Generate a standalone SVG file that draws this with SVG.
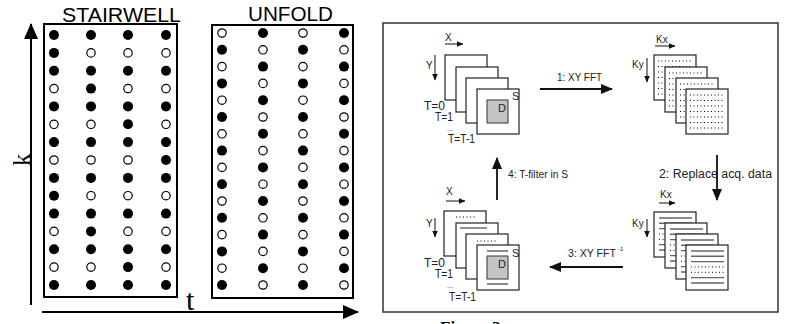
<svg xmlns="http://www.w3.org/2000/svg" xmlns:xlink="http://www.w3.org/1999/xlink" width="785" height="324" viewBox="0 0 785 324">
<style>
.f{fill:#000}
.o{fill:#fff;stroke:#000;stroke-width:1.2}
.box{fill:none;stroke:#000;stroke-width:2}
.ttl{font-family:"Liberation Sans",Arial,sans-serif;fill:#000}
.ax{stroke:#000;stroke-width:2;fill:none}
.fr{fill:#fff;stroke:#222;stroke-width:1.2}
.dbox{fill:#c4c4c4;stroke:#333;stroke-width:1}
.dots{stroke:#000;stroke-width:1;stroke-dasharray:1 2.5;fill:none}
.sl{stroke:#666;stroke-width:1.4;fill:none}
.lb{font-family:"Liberation Sans",Arial,sans-serif;fill:#222}
.big{stroke:#111;stroke-width:1.8;fill:none}
.sm{stroke:#111;stroke-width:1;fill:none}
</style>
<defs>
<marker id="mb" markerUnits="userSpaceOnUse" markerWidth="12" markerHeight="10" refX="11" refY="5" orient="auto"><path d="M0,0L12,5L0,10z" fill="#111"/></marker>
<marker id="ms" markerUnits="userSpaceOnUse" markerWidth="7" markerHeight="6" refX="6.5" refY="3" orient="auto"><path d="M0,0L7,3L0,6z" fill="#111"/></marker>
<marker id="ma" markerUnits="userSpaceOnUse" markerWidth="16" markerHeight="14" refX="15" refY="7" orient="auto"><path d="M0,0L16,7L0,14z" fill="#000"/></marker>
<g id="kdots"><rect class="fr" x="0" y="0" width="42" height="45"/><path class="dots" d="M4,6H38M4,11.5H38M4,17H38M4,22.5H38M4,28H38M4,33.5H38M4,39H38"/></g>
<g id="klines"><rect class="fr" x="0" y="0" width="42" height="45"/><path class="sl" d="M5,6H38M5,11.3H38M5,16.6H38M5,32.6H38M5,38H38"/><path class="dots" d="M5,22H38M5,27.3H38"/></g>
</defs>
<rect width="785" height="324" fill="#fff"/>

<g id="axes">
<line class="ax" x1="31" y1="305" x2="31" y2="24" marker-end="url(#ma)"/>
<line class="ax" x1="42" y1="312" x2="358" y2="312" marker-end="url(#ma)"/>
<text transform="translate(30,166) rotate(-90)" font-family="Liberation Serif,serif" font-size="25">k</text>
<text x="186" y="310" font-family="Liberation Serif,serif" font-size="30">t</text>
</g>

<g id="stairwell">
<rect class="box" x="44" y="24" width="133" height="273"/>
<text class="ttl" x="62" y="22" font-size="19.5" textLength="119" lengthAdjust="spacingAndGlyphs">STAIRWELL</text>
<g>
<circle class="f" cx="54" cy="35" r="5"/><circle class="f" cx="91" cy="35" r="5"/><circle class="f" cx="128" cy="35" r="5"/><circle class="f" cx="166" cy="35" r="5"/>
<circle class="f" cx="54" cy="52.9" r="5"/><circle class="o" cx="91" cy="52.9" r="4.2"/><circle class="o" cx="128" cy="52.9" r="4.2"/><circle class="o" cx="166" cy="52.9" r="4.2"/>
<circle class="f" cx="54" cy="70.7" r="5"/><circle class="f" cx="91" cy="70.7" r="5"/><circle class="f" cx="128" cy="70.7" r="5"/><circle class="f" cx="166" cy="70.7" r="5"/>
<circle class="o" cx="54" cy="88.6" r="4.2"/><circle class="f" cx="91" cy="88.6" r="5"/><circle class="o" cx="128" cy="88.6" r="4.2"/><circle class="o" cx="166" cy="88.6" r="4.2"/>
<circle class="f" cx="54" cy="106.4" r="5"/><circle class="f" cx="91" cy="106.4" r="5"/><circle class="f" cx="128" cy="106.4" r="5"/><circle class="f" cx="166" cy="106.4" r="5"/>
<circle class="o" cx="54" cy="124.3" r="4.2"/><circle class="o" cx="91" cy="124.3" r="4.2"/><circle class="f" cx="128" cy="124.3" r="5"/><circle class="o" cx="166" cy="124.3" r="4.2"/>
<circle class="f" cx="54" cy="142.1" r="5"/><circle class="f" cx="91" cy="142.1" r="5"/><circle class="f" cx="128" cy="142.1" r="5"/><circle class="f" cx="166" cy="142.1" r="5"/>
<circle class="o" cx="54" cy="160" r="4.2"/><circle class="o" cx="91" cy="160" r="4.2"/><circle class="o" cx="128" cy="160" r="4.2"/><circle class="f" cx="166" cy="160" r="5"/>
<circle class="f" cx="54" cy="177.9" r="5"/><circle class="f" cx="91" cy="177.9" r="5"/><circle class="f" cx="128" cy="177.9" r="5"/><circle class="f" cx="166" cy="177.9" r="5"/>
<circle class="f" cx="54" cy="195.7" r="5"/><circle class="o" cx="91" cy="195.7" r="4.2"/><circle class="o" cx="128" cy="195.7" r="4.2"/><circle class="o" cx="166" cy="195.7" r="4.2"/>
<circle class="f" cx="54" cy="213.6" r="5"/><circle class="f" cx="91" cy="213.6" r="5"/><circle class="f" cx="128" cy="213.6" r="5"/><circle class="f" cx="166" cy="213.6" r="5"/>
<circle class="o" cx="54" cy="231.4" r="4.2"/><circle class="f" cx="91" cy="231.4" r="5"/><circle class="o" cx="128" cy="231.4" r="4.2"/><circle class="o" cx="166" cy="231.4" r="4.2"/>
<circle class="f" cx="54" cy="249.3" r="5"/><circle class="f" cx="91" cy="249.3" r="5"/><circle class="f" cx="128" cy="249.3" r="5"/><circle class="f" cx="166" cy="249.3" r="5"/>
<circle class="o" cx="54" cy="267.1" r="4.2"/><circle class="o" cx="91" cy="267.1" r="4.2"/><circle class="f" cx="128" cy="267.1" r="5"/><circle class="o" cx="166" cy="267.1" r="4.2"/>
<circle class="f" cx="54" cy="285" r="5"/><circle class="f" cx="91" cy="285" r="5"/><circle class="f" cx="128" cy="285" r="5"/><circle class="f" cx="166" cy="285" r="5"/>
</g>
</g>

<g id="unfold">
<rect class="box" x="212" y="25" width="141" height="273"/>
<text class="ttl" x="248" y="21" font-size="21" textLength="85" lengthAdjust="spacingAndGlyphs">UNFOLD</text>
<g>
<circle class="o" cx="222" cy="33" r="4.2"/><circle class="f" cx="263" cy="33" r="5"/><circle class="o" cx="303" cy="33" r="4.2"/><circle class="f" cx="344" cy="33" r="5"/>
<circle class="f" cx="222" cy="49.8" r="5"/><circle class="o" cx="263" cy="49.8" r="4.2"/><circle class="f" cx="303" cy="49.8" r="5"/><circle class="o" cx="344" cy="49.8" r="4.2"/>
<circle class="o" cx="222" cy="66.6" r="4.2"/><circle class="f" cx="263" cy="66.6" r="5"/><circle class="o" cx="303" cy="66.6" r="4.2"/><circle class="f" cx="344" cy="66.6" r="5"/>
<circle class="f" cx="222" cy="83.4" r="5"/><circle class="o" cx="263" cy="83.4" r="4.2"/><circle class="f" cx="303" cy="83.4" r="5"/><circle class="o" cx="344" cy="83.4" r="4.2"/>
<circle class="o" cx="222" cy="100.2" r="4.2"/><circle class="f" cx="263" cy="100.2" r="5"/><circle class="o" cx="303" cy="100.2" r="4.2"/><circle class="f" cx="344" cy="100.2" r="5"/>
<circle class="f" cx="222" cy="117" r="5"/><circle class="o" cx="263" cy="117" r="4.2"/><circle class="f" cx="303" cy="117" r="5"/><circle class="o" cx="344" cy="117" r="4.2"/>
<circle class="o" cx="222" cy="133.8" r="4.2"/><circle class="f" cx="263" cy="133.8" r="5"/><circle class="o" cx="303" cy="133.8" r="4.2"/><circle class="f" cx="344" cy="133.8" r="5"/>
<circle class="f" cx="222" cy="150.6" r="5"/><circle class="o" cx="263" cy="150.6" r="4.2"/><circle class="f" cx="303" cy="150.6" r="5"/><circle class="o" cx="344" cy="150.6" r="4.2"/>
<circle class="o" cx="222" cy="167.4" r="4.2"/><circle class="f" cx="263" cy="167.4" r="5"/><circle class="o" cx="303" cy="167.4" r="4.2"/><circle class="f" cx="344" cy="167.4" r="5"/>
<circle class="f" cx="222" cy="184.2" r="5"/><circle class="o" cx="263" cy="184.2" r="4.2"/><circle class="f" cx="303" cy="184.2" r="5"/><circle class="o" cx="344" cy="184.2" r="4.2"/>
<circle class="o" cx="222" cy="201" r="4.2"/><circle class="f" cx="263" cy="201" r="5"/><circle class="o" cx="303" cy="201" r="4.2"/><circle class="f" cx="344" cy="201" r="5"/>
<circle class="f" cx="222" cy="217.8" r="5"/><circle class="o" cx="263" cy="217.8" r="4.2"/><circle class="f" cx="303" cy="217.8" r="5"/><circle class="o" cx="344" cy="217.8" r="4.2"/>
<circle class="o" cx="222" cy="234.6" r="4.2"/><circle class="f" cx="263" cy="234.6" r="5"/><circle class="o" cx="303" cy="234.6" r="4.2"/><circle class="f" cx="344" cy="234.6" r="5"/>
<circle class="f" cx="222" cy="251.4" r="5"/><circle class="o" cx="263" cy="251.4" r="4.2"/><circle class="f" cx="303" cy="251.4" r="5"/><circle class="o" cx="344" cy="251.4" r="4.2"/>
<circle class="o" cx="222" cy="268.2" r="4.2"/><circle class="f" cx="263" cy="268.2" r="5"/><circle class="o" cx="303" cy="268.2" r="4.2"/><circle class="f" cx="344" cy="268.2" r="5"/>
<circle class="f" cx="222" cy="285" r="5"/><circle class="o" cx="263" cy="285" r="4.2"/><circle class="f" cx="303" cy="285" r="5"/><circle class="o" cx="344" cy="285" r="4.2"/>
</g>
</g>

<g id="panel">
<rect x="383" y="23" width="395" height="289" fill="none" stroke="#333" stroke-width="1.5"/>
</g>

<g id="image-space-top">
<rect class="fr" x="445" y="55" width="42" height="45"/>
<rect class="fr" x="456" y="67" width="42" height="45"/>
<rect class="fr" x="466" y="78" width="42" height="45"/>
<rect class="fr" x="477" y="89" width="42" height="45"/>
<rect class="dbox" x="487" y="100" width="21" height="23"/>
<text class="lb" x="498" y="112" font-size="11">D</text>
<text class="lb" x="512" y="100" font-size="11">S</text>
<text class="lb" x="445" y="41" font-size="10">X</text>
<text class="lb" x="426" y="69" font-size="10">Y</text>
<text class="lb" x="424" y="110" font-size="12" textLength="21" lengthAdjust="spacingAndGlyphs">T=0</text>
<text class="lb" x="435" y="121" font-size="12" textLength="18" lengthAdjust="spacingAndGlyphs">T=1</text>
<text class="lb" x="447" y="131" font-size="7">...</text>
<text class="lb" x="448" y="143" font-size="12" textLength="27" lengthAdjust="spacingAndGlyphs">T=T-1</text>
</g>

<g id="kspace-top">
<use xlink:href="#kdots" x="654" y="55"/>
<use xlink:href="#kdots" x="665" y="67"/>
<use xlink:href="#kdots" x="676" y="78"/>
<use xlink:href="#kdots" x="686" y="89"/>
<text class="lb" x="656" y="43" font-size="10">Kx</text>
<text class="lb" x="632" y="68" font-size="10">Ky</text>
</g>

<g id="kspace-bottom">
<use xlink:href="#klines" x="654" y="212"/>
<use xlink:href="#klines" x="665" y="223"/>
<use xlink:href="#klines" x="676" y="234"/>
<use xlink:href="#klines" x="686" y="245"/>
<text class="lb" x="660" y="198" font-size="10">Kx</text>
<text class="lb" x="632" y="227" font-size="10">Ky</text>
</g>

<g id="image-space-bottom">
<rect class="fr" x="444" y="211" width="42" height="45"/>
<path class="dots" d="M456,217H477"/>
<rect class="fr" x="456" y="223" width="42" height="45"/>
<path class="sl" d="M460,228H487"/>
<rect class="fr" x="466" y="234" width="42" height="45"/>
<path class="dots" d="M477,241H498"/>
<rect class="fr" x="477" y="245" width="42" height="45"/>
<path class="sl" d="M487,251H508M487,284H508"/>
<rect class="dbox" x="487" y="256" width="21" height="23"/>
<text class="lb" x="498" y="268" font-size="11">D</text>
<text class="lb" x="512" y="257" font-size="11">S</text>
<text class="lb" x="446" y="195" font-size="10">X</text>
<text class="lb" x="426" y="227" font-size="10">Y</text>
<text class="lb" x="424" y="267" font-size="12" textLength="21" lengthAdjust="spacingAndGlyphs">T=0</text>
<text class="lb" x="435" y="278" font-size="12" textLength="18" lengthAdjust="spacingAndGlyphs">T=1</text>
<text class="lb" x="447" y="288" font-size="7">...</text>
<text class="lb" x="449" y="301" font-size="12" textLength="27" lengthAdjust="spacingAndGlyphs">T=T-1</text>
</g>

<g id="labels">
<text class="lb" x="557" y="81" font-size="11.5" textLength="45" lengthAdjust="spacingAndGlyphs">1: XY FFT</text>
<text class="lb" x="659" y="178" font-size="12" textLength="113" lengthAdjust="spacingAndGlyphs">2: Replace acq. data</text>
<text class="lb" x="568" y="257" font-size="11.5" textLength="48" lengthAdjust="spacingAndGlyphs">3: XY FFT</text>
<text class="lb" x="618" y="251" font-size="6">-1</text>
<text class="lb" x="508" y="178" font-size="11.5" textLength="60" lengthAdjust="spacingAndGlyphs">4: T-filter in S</text>
<text x="440" y="333" font-family="Liberation Serif,serif" font-weight="bold" font-size="17">Figure 2</text>
</g>

<g id="connectors">
<path class="big" d="M540,89H612" marker-end="url(#mb)"/>
<path class="big" d="M717,155V200" marker-end="url(#mb)"/>
<path class="big" d="M623,267H550" marker-end="url(#mb)"/>
<path class="big" d="M497,200V158" marker-end="url(#mb)"/>
<path class="sm" d="M445,44H463" marker-end="url(#ms)"/>
<path class="sm" d="M435,55V80" marker-end="url(#ms)"/>
<path class="sm" d="M655,46H675" marker-end="url(#ms)"/>
<path class="sm" d="M647,58V82" marker-end="url(#ms)"/>
<path class="sm" d="M446,201H465" marker-end="url(#ms)"/>
<path class="sm" d="M435,218V237" marker-end="url(#ms)"/>
<path class="sm" d="M659,203H675" marker-end="url(#ms)"/>
<path class="sm" d="M647,219V237" marker-end="url(#ms)"/>
</g>
</svg>
